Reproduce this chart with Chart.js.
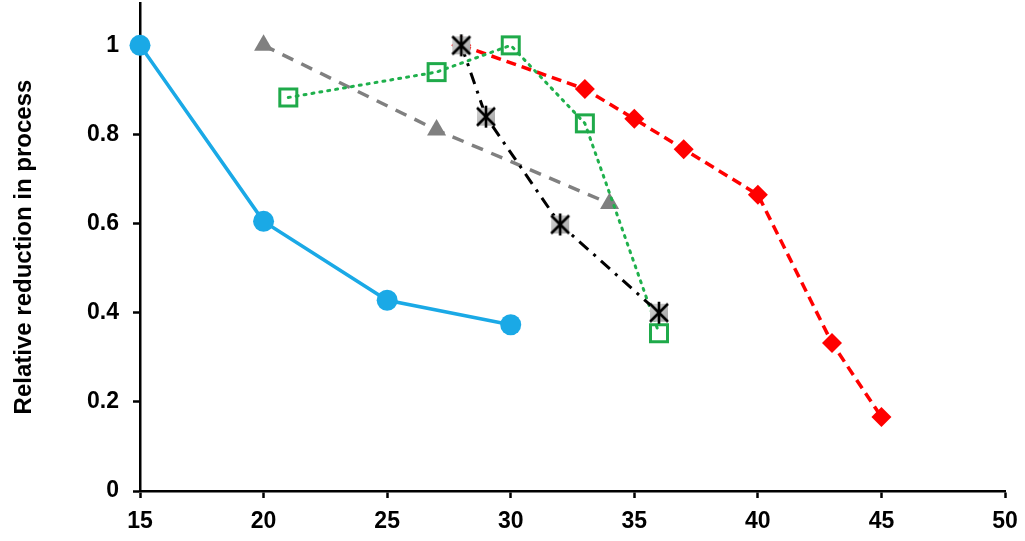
<!DOCTYPE html>
<html>
<head>
<meta charset="utf-8">
<script src="https://cdn.jsdelivr.net/npm/chart.js@4/dist/chart.umd.min.js"></script>
<style>
  html, body { margin: 0; padding: 0; background: #fff; }
  #wrap { width: 1025px; height: 541px; }
</style>
</head>
<body>
<div id="wrap"><canvas id="chart" width="1025" height="541"></canvas></div>
<script>
// --- dados ---
const xTicks = [15, 20, 25, 30, 35, 40, 45, 50];
const yTicks = [0, 0.2, 0.4, 0.6, 0.8, 1];

const blueX = [15, 20, 25, 30];
const blueY = [1, 0.605, 0.428, 0.373];

const grayX = [20, 27, 34];
const grayY = [1, 0.81, 0.645];

const greenX = [21, 27, 30, 33, 36];
const greenY = [0.883, 0.94, 1, 0.825, 0.354];

const blackX = [28, 29, 32, 36];
const blackY = [1, 0.84, 0.598, 0.4];

const redX = [28, 33, 35, 37, 40, 43, 45];
const redY = [1, 0.902, 0.835, 0.767, 0.665, 0.332, 0.166];

const toPoints = (xs, ys) => xs.map((x, i) => ({ x, y: ys[i] }));

// --- marcadores desenhados à mão ---
function makeGreenSquare() {
    const c = document.createElement('canvas');
    c.width = 24; c.height = 24;
    const g = c.getContext('2d');
    g.strokeStyle = '#1faa4a';
    g.lineWidth = 3;
    g.strokeRect(3.5, 3.5, 17, 17);
    return c;
}

function makeAsterisk() {
    const c = document.createElement('canvas');
    c.width = 26; c.height = 26;
    const g = c.getContext('2d');
    const grad = g.createLinearGradient(0, 0, 26, 26);
    grad.addColorStop(0, '#e0e0e0');
    grad.addColorStop(1, '#999');
    g.fillStyle = grad;
    g.fillRect(4, 4, 18, 18);
    g.strokeStyle = '#000';
    g.lineWidth = 2.6;
    g.beginPath();
    g.moveTo(13, 2); g.lineTo(13, 24);
    g.moveTo(4, 4); g.lineTo(22, 22);
    g.moveTo(22, 4); g.lineTo(4, 22);
    g.stroke();
    return c;
}

const font = { family: "'Liberation Sans', Arial, sans-serif", size: 23, weight: 'bold' };

new Chart(document.getElementById('chart'), {
    type: 'scatter',
    data: {
        datasets: [
            {
                label: 'Blue', data: toPoints(blueX, blueY), showLine: true,
                borderColor: '#1aa9e6', backgroundColor: '#1aa9e6', borderWidth: 3.5,
                pointStyle: 'circle', pointRadius: 10.5, pointBorderWidth: 0, order: 5
            },
            {
                label: 'Gray', data: toPoints(grayX, grayY), showLine: true,
                borderColor: '#808080', backgroundColor: '#808080', borderWidth: 3.5,
                borderDash: [12, 9], pointStyle: 'triangle', pointRadius: 11, pointBorderWidth: 0, order: 4
            },
            {
                label: 'Red', data: toPoints(redX, redY), showLine: true,
                borderColor: '#ff0000', backgroundColor: '#ff0000', borderWidth: 3.5,
                borderDash: [10, 6], pointStyle: 'rectRot', pointRadius: 10, pointBorderWidth: 0, order: 3
            },
            {
                label: 'Green', data: toPoints(greenX, greenY), showLine: true,
                borderColor: '#1fb04c', backgroundColor: '#1fb04c', borderWidth: 3,
                borderDash: [2, 6], borderCapStyle: 'round', pointStyle: makeGreenSquare(), order: 2
            },
            {
                label: 'Black', data: toPoints(blackX, blackY), showLine: true,
                borderColor: '#000', backgroundColor: '#000', borderWidth: 3,
                borderDash: [12, 7, 3, 7], pointStyle: makeAsterisk(), order: 1
            }
        ]
    },
    options: {
        responsive: false, animation: false,
        clip: false,
        layout: { autoPadding: false, padding: { top: 3, right: 20, left: 0, bottom: 0 } },
        plugins: { legend: { display: false }, tooltip: { enabled: false } },
        scales: {
            x: {
                type: 'linear', min: 15, max: 50,
                afterBuildTicks: (s) => { s.ticks = xTicks.map(v => ({ value: v })); },
                afterFit: (s) => { s.height = 50; s.paddingLeft = 0; s.paddingRight = 0; },
                grid: { display: true, drawOnChartArea: false, drawTicks: true, tickLength: 7, tickColor: '#000', tickWidth: 2.5 },
                border: { display: true, color: '#000', width: 2.5 },
                ticks: { color: '#000', font, padding: 10, callback: (v) => String(v) }
            },
            y: {
                type: 'linear', min: 0, max: 1.095,
                afterBuildTicks: (s) => { s.ticks = yTicks.map(v => ({ value: v })); },
                afterFit: (s) => { s.width = 140; s.paddingTop = 0; s.paddingBottom = 0; },
                grid: { display: true, drawOnChartArea: false, drawTicks: true, tickLength: 7, tickColor: '#000', tickWidth: 2.5 },
                border: { display: true, color: '#000', width: 2.5 },
                ticks: { color: '#000', font, padding: 14, callback: (v) => String(v) },
                title: { display: true, text: 'Relative reduction in process', color: '#000',
                         font: { family: "'Liberation Sans', Arial, sans-serif", size: 24, weight: 'bold' }, padding: { top: 10, bottom: 0 } }
            }
        }
    }
});
</script>
</body>
</html>
